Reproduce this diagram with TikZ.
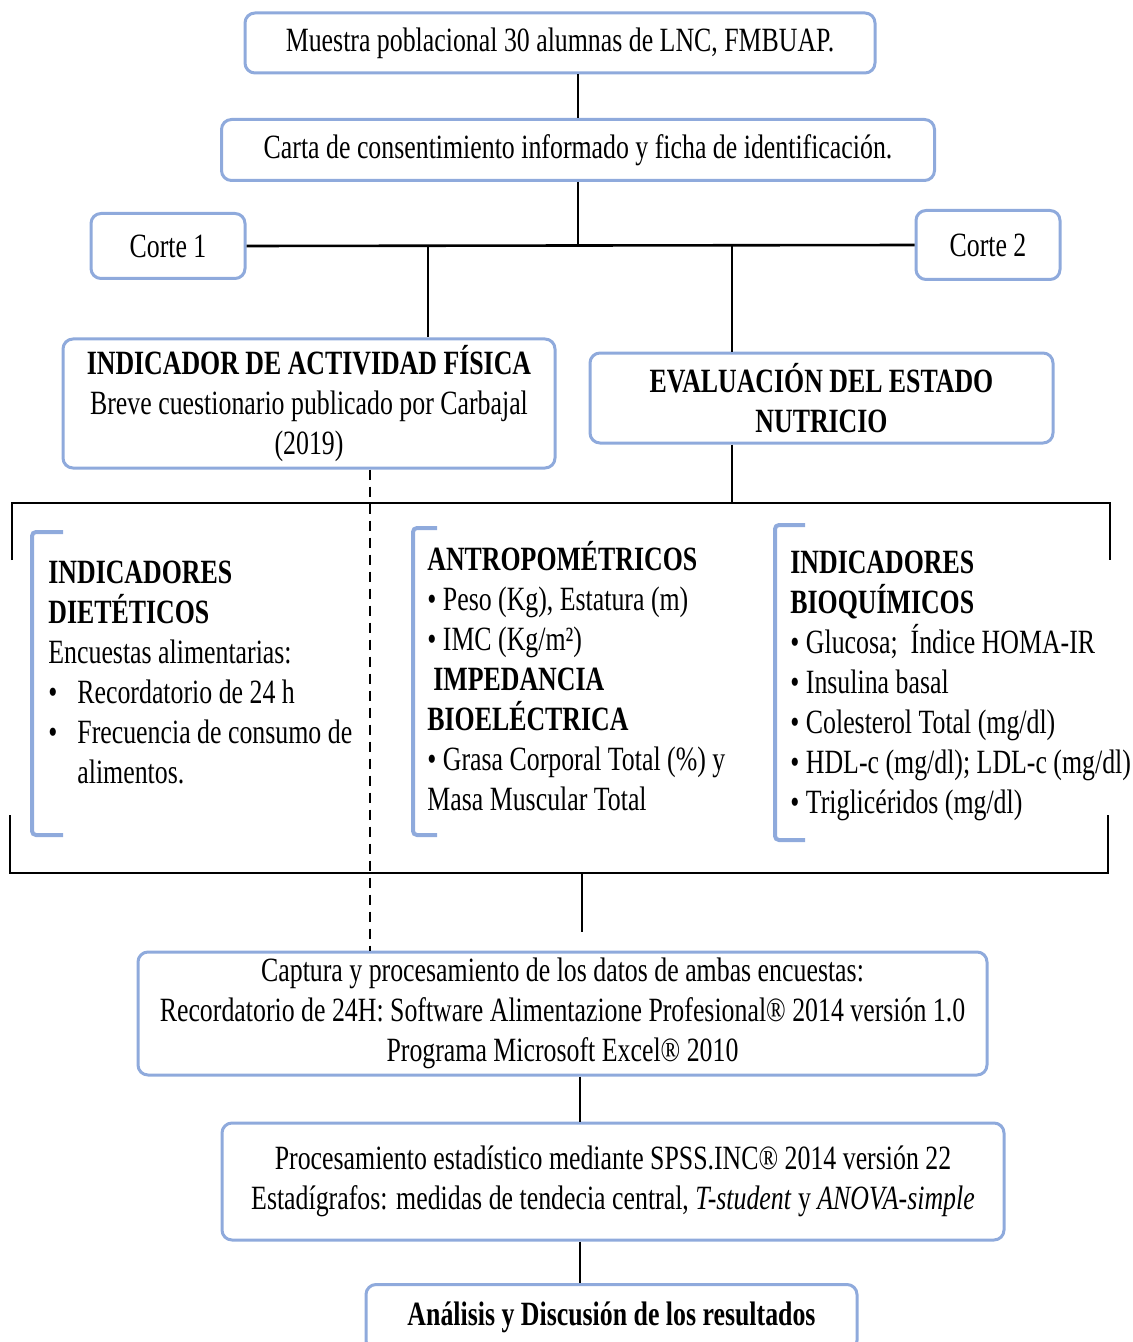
\documentclass[tikz,border=0pt]{standalone}
\usepackage{fontspec}
\setmainfont{Liberation Serif}[FakeStretch=0.76]
\usetikzlibrary{positioning}
\definecolor{boxblue}{RGB}{143,170,220}

\begin{document}
\begin{tikzpicture}[
    x=0.5pt, y=-0.5pt,
    every node/.style={font=\fontsize{17}{20}\selectfont},
    stagebox/.style={
        draw=boxblue,
        line width=1.5pt,
        rounded corners=5pt,
        align=center,
        inner sep=2pt
    },
    boldbox/.style={
        stagebox,
        font=\fontsize{17}{20}\selectfont\bfseries
    },
    link/.style={draw, line width=0.9pt},
    frameline/.style={draw, line width=1.1pt},
    bracket/.style={draw=boxblue, line width=2pt, rounded corners=2pt},
    column/.style={anchor=base west, align=left, inner sep=0pt}
]
\useasboundingbox (0,0) rectangle (1133,1342);

% main boxes
\node[stagebox, minimum width=315pt, minimum height=30pt] (sample) at (560,43)
    {Muestra poblacional 30 alumnas de LNC, FMBUAP.};
\node[stagebox, minimum width=356.5pt, minimum height=30.5pt] (consent) at (578,150)
    {Carta de consentimiento informado y ficha de identificación.};
\node[stagebox, minimum width=77pt, minimum height=32.5pt] (corteA) at (168,246) {Corte 1};
\node[stagebox, minimum width=72pt, minimum height=34.5pt] (corteB) at (988,245) {Corte 2};
\node[stagebox, minimum width=246pt, minimum height=64.5pt] (actfis) at (309,403.5)
    {\textbf{INDICADOR DE ACTIVIDAD FÍSICA}\\Breve cuestionario publicado por Carbajal\\(2019)};
\node[boldbox, minimum width=231.5pt, minimum height=45pt] (evalnut) at (821.5,398)
    {EVALUACIÓN DEL ESTADO\\NUTRICIO};
\node[stagebox, minimum width=424.5pt, minimum height=61.5pt] (captura) at (562.5,1013.5)
    {Captura y procesamiento de los datos de ambas encuestas:\\
     Recordatorio de 24H: Software Alimentazione Profesional® 2014 versión 1.0\\
     Programa Microsoft Excel® 2010};
\node[stagebox, minimum width=391pt, minimum height=58.5pt] (stats) at (613,1181.5)
    {Procesamiento estadístico mediante SPSS.INC® 2014 versión 22\\
     Estadígrafos: medidas de tendecia central, \textit{T-student} y \textit{ANOVA-simple}};
\node[boldbox, minimum width=245.5pt, minimum height=33pt] (results) at (611.5,1317.5)
    {Análisis y Discusión de los resultados};

% indicator columns (anchored on their last line)
\node[column] (dietcol) at (48,783)
    {\textbf{INDICADORES}\\
     \textbf{DIETÉTICOS}\\
     Encuestas alimentarias:\\
     \makebox[14.5pt][l]{•}Recordatorio de 24 h\\
     \makebox[14.5pt][l]{•}Frecuencia de consumo de\\
     \hspace*{14.5pt}alimentos.};
\node[column] (anthcol) at (427,810)
    {\textbf{ANTROPOMÉTRICOS}\\
     • Peso (Kg), Estatura (m)\\
     • IMC (Kg/m²)\\
     \hspace*{3pt}\textbf{IMPEDANCIA}\\
     \textbf{BIOELÉCTRICA}\\
     • Grasa Corporal Total (\%) y\\
     Masa Muscular Total};
\node[column] (biocol) at (790,813)
    {\textbf{INDICADORES}\\
     \textbf{BIOQUÍMICOS}\\
     • Glucosa;\ \ Índice HOMA-IR\\
     • Insulina basal\\
     • Colesterol Total (mg/dl)\\
     • HDL-c (mg/dl); LDL-c (mg/dl)\\
     • Triglicéridos\ (mg/dl)};

% brackets
\draw[bracket] (63,532) -- (32,532) -- (32,835) -- (63,835);
\draw[bracket] (437,528) -- (413,528) -- (413,835) -- (437,835);
\draw[bracket] (805,525) -- (775,525) -- (775,840) -- (805,840);

% frame around the indicators
\coordinate (fTL) at (12,503);
\coordinate (fTR) at (1110,503);
\coordinate (fBL) at (10,873);
\coordinate (fBR) at (1108,873);
\draw[frameline] (12,560) -- (fTL) -- (fTR) -- (1110,560);
\draw[frameline] (10,815) -- (fBL) -- (fBR) -- (1108,815);

% connectors
\coordinate (hub) at (consent.south |- corteA.east);
\coordinate (tapA) at (428,246);
\coordinate (tapB) at (732,246);
\coordinate (dashX) at (370,0);
\coordinate (spine) at (580,0);
\coordinate (gapEnd) at (582,932);
\draw[link] (sample.south -| consent.north) -- (consent.north);
\draw[link] (consent.south) -- (hub);
\draw[link, line width=1.3pt] (corteA.east) -- (corteB.west);
\draw[link] (tapA) -- (tapA |- actfis.north);
\draw[link] (tapB) -- (tapB |- evalnut.north);
\draw[link] (evalnut.south -| tapB) -- (tapB |- fTL);
\draw[link, line width=1.3pt, dash pattern=on 5pt off 3.5pt] (actfis.south -| dashX) -- (captura.north -| dashX);
\draw[link] (gapEnd |- fBL) -- (gapEnd);
\draw[link] (captura.south -| spine) -- (stats.north -| spine);
\draw[link] (stats.south -| spine) -- (results.north -| spine);

\end{tikzpicture}
\end{document}
